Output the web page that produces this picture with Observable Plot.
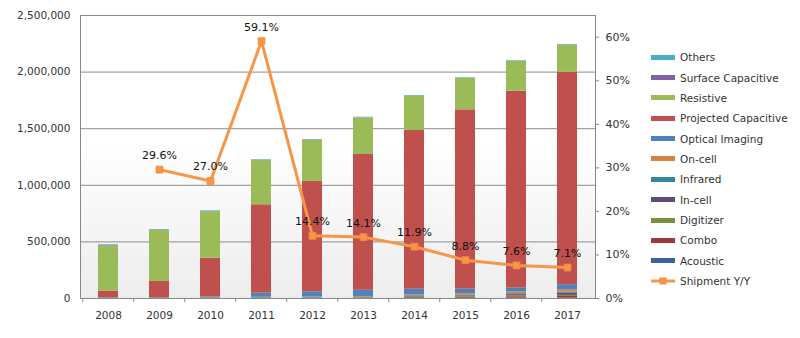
<!DOCTYPE html>
<html><head><meta charset="utf-8">
<script src="https://cdn.jsdelivr.net/npm/d3@7"></script>
<script src="https://cdn.jsdelivr.net/npm/@observablehq/plot@0.6"></script>
<style>
body{margin:0;background:#fff;font-family:"DejaVu Sans",Verdana,sans-serif;}
#wrap{position:relative;width:800px;height:338px;}
#legend{position:absolute;left:651px;top:47px;font-size:10.5px;color:#333;}
.item{height:20.36px;display:flex;align-items:center;white-space:nowrap;}
.sw{width:24px;height:5px;margin-right:5px;flex:none;}
</style></head><body><div id="wrap"><div id="legend"></div></div>
<script>
const years = ["2008","2009","2010","2011","2012","2013","2014","2015","2016","2017"];
// stacking order, bottom to top
const stackOrder = ["Acoustic","Combo","Digitizer","In-cell","Infrared","On-cell","Optical Imaging","Projected Capacitive","Resistive","Surface Capacitive","Others"];
const colors = ["#3c649a","#a03a3a","#76923c","#5e4a7c","#34879d","#d9813e","#4f81bd","#c0504d","#9bbb59","#8064a2","#4bacc6"];
const acoustic     = [2000,2000,2000,3000,3000,3000,3000,3000,3000,3000];
const combo        = [0,0,0,0,0,0,5000,8000,12000,15000];
const digitizer    = [3000,3000,4000,5000,5000,6000,7000,8000,9000,10000];
const inCell       = [0,0,0,0,0,0,3000,5000,10000,20000];
const infrared     = [1000,1000,2000,3000,4000,5000,6000,7000,8000,9000];
const onCell       = [0,0,0,0,2000,4000,8000,12000,16000,20000];
const optical      = [0,0,5000,37000,45000,55000,50000,40000,35000,45000];
const projected    = [59000,144000,343000,780000,975000,1199000,1402000,1584000,1738000,1877000];
const resistive    = [398000,451000,411000,390000,363000,322000,302000,277000,263000,239000];
const surfaceCap   = [4000,2000,1000,1000,1000,1000,1000,1000,1000,1000];
const others       = [7000,6000,6000,6000,6000,6000,6000,5000,5000,5000];
const shipmentYears = ["2009","2010","2011","2012","2013","2014","2015","2016","2017"];
const shipmentYY    = [29.6,27.0,59.1,14.4,14.1,11.9,8.8,7.6,7.1];
const leftTicks  = [0,500000,1000000,1500000,2000000,2500000];
const rightTicks = [0,10,20,30,40,50,60];

const seriesValues = [acoustic,combo,digitizer,inCell,infrared,onCell,optical,projected,resistive,surfaceCap,others];
const rows = [];
stackOrder.forEach((s,i)=>years.forEach((y,j)=>rows.push({year:y,series:s,value:seriesValues[i][j]})));
const lineRows = shipmentYears.map((y,i)=>({year:y,pct:shipmentYY[i]}));

const yMax = 2500000, pMax = 65, k = yMax/pMax;
const W = 800, mL = 80, mR = 205;
const halfStep = (W - mL - mR) / years.length / 2;

const plot = Plot.plot({
  width: W, height: 338, marginLeft: mL, marginRight: mR, marginTop: 15, marginBottom: 40,
  style: {fontFamily: "DejaVu Sans, Verdana, sans-serif", fontSize: "10.5px", color: "#333", background: "transparent", overflow: "visible"},
  x: {domain: years, paddingInner: 0.6, paddingOuter: 0.3, label: null},
  y: {domain: [0, yMax], label: null},
  color: {domain: stackOrder, range: colors},
  marks: [
    Plot.frame({fill: "url(#plotbg)"}),
    Plot.gridY(leftTicks, {stroke: "#8c8c8c", strokeOpacity: 1}),
    Plot.axisY(leftTicks, {tickFormat: d3.format(","), tickSize: 0, tickPadding: 10, label: null}),
    Plot.axisY(rightTicks.map(p=>p*k), {anchor: "right", tickFormat: d=>Math.round(d/k)+"%", tickSize: 3, tickPadding: 7, label: null, fontSize: 11, stroke: "#888"}),
    Plot.axisX({tickSize: 0, tickPadding: 13, label: null, fontSize: 10.5}),
    Plot.axisX({tickSize: 4, tickFormat: () => "", dx: -halfStep, label: null, stroke: "#888"}),
    Plot.barY(rows, {x: "year", y: "value", fill: "series", order: stackOrder}),
    Plot.frame({stroke: "#888"}),
    Plot.line(lineRows, {x: "year", y: d=>d.pct*k, stroke: "#f79646", strokeWidth: 3}),
    Plot.dot(lineRows, {x: "year", y: d=>d.pct*k, symbol: "square", r: 3.8, fill: "#f79646", stroke: "#f08c3c", strokeWidth: 1}),
    Plot.text(lineRows, {x: "year", y: d=>d.pct*k, text: d=>d.pct.toFixed(1)+"%", dy: -14, fontSize: 11, fill: "#111"})
  ]
});
plot.insertAdjacentHTML("afterbegin", `<defs><linearGradient id="plotbg" x1="0" y1="0" x2="0" y2="1"><stop offset="0" stop-color="#ffffff"/><stop offset="0.45" stop-color="#ffffff"/><stop offset="1" stop-color="#ededed"/></linearGradient></defs>`);
document.getElementById("wrap").prepend(plot);

const legend = document.getElementById("legend");
const legendOrder = stackOrder.slice().reverse();
legendOrder.forEach(s=>{
  const c = colors[stackOrder.indexOf(s)];
  const d = document.createElement("div"); d.className = "item";
  d.innerHTML = `<span class="sw" style="background:${c}"></span><span>${s}</span>`;
  legend.appendChild(d);
});
const d = document.createElement("div"); d.className = "item";
d.innerHTML = `<svg width="24" height="10" style="margin-right:5px;flex:none"><line x1="0" y1="5" x2="24" y2="5" stroke="#f79646" stroke-width="3"/><rect x="9" y="2" width="6" height="6" fill="#f79646" stroke="#f08c3c"/></svg><span>Shipment Y/Y</span>`;
legend.appendChild(d);
</script></body></html>
